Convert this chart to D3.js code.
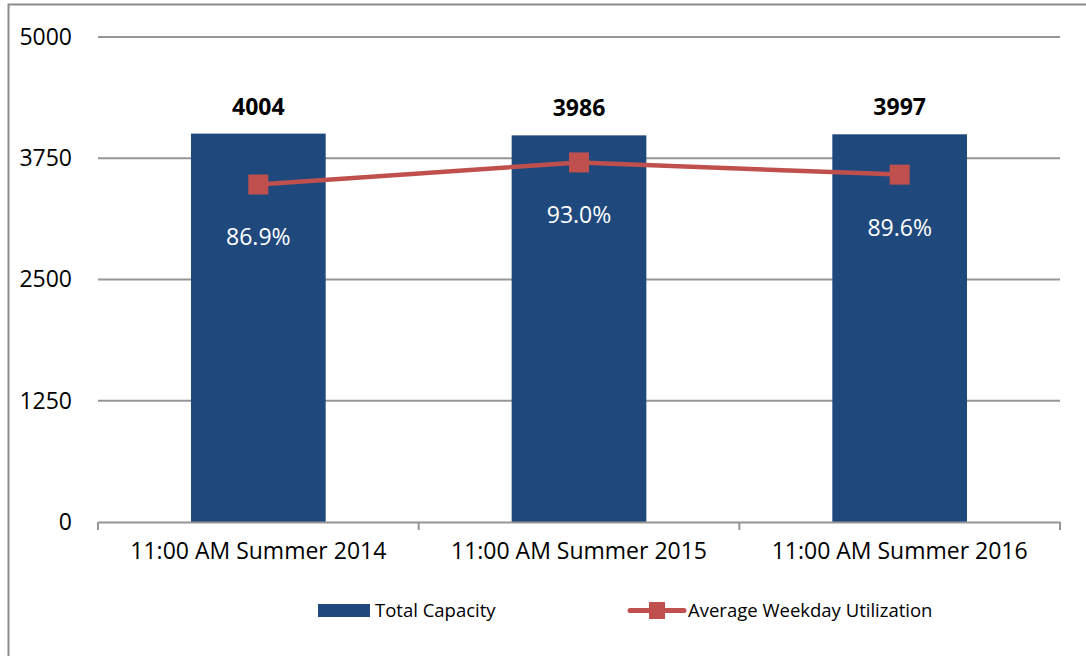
<!DOCTYPE html>
<html>
<head>
<meta charset="utf-8">
<script src="https://cdn.jsdelivr.net/npm/d3@7"></script>
<style>
  html, body { margin: 0; padding: 0; background: #fff; }
  svg { display: block; font-family: "Open Sans", "Noto Sans", sans-serif; }
</style>
</head>
<body>
<div class="display"></div>
<script>
const categories = ['11:00 AM Summer 2014', '11:00 AM Summer 2015', '11:00 AM Summer 2016'];
const capacity = [4004, 3986, 3997];
const utilization = [86.9, 93.0, 89.6];
const yTicks = [0, 1250, 2500, 3750, 5000];

const width = 1086;
const height = 656;
const margin = {left: 98, right: 26, top: 37, bottom: 134};

const dataset = categories.map((c, i) => ({
    category: c,
    capacity: capacity[i],
    utilization: utilization[i],
    used: capacity[i] * utilization[i] / 100
}));

const svg = d3.select('.display')
    .append('svg')
    .attr('width', width)
    .attr('height', height);

// outer frame
svg.append('rect')
    .attr('x', 8.5).attr('y', 4.5)
    .attr('width', width + 10).attr('height', height + 10)
    .attr('fill', 'none')
    .attr('stroke', '#8c8c8c')
    .attr('stroke-width', 2);

const xScale = d3.scaleBand()
    .domain(categories)
    .range([margin.left, width - margin.right])
    .paddingInner(0.58)
    .paddingOuter(0.29);

const xOuter = d3.scaleBand()
    .domain(categories)
    .range([margin.left, width - margin.right]);

const yScale = d3.scaleLinear()
    .domain([0, 5000])
    .range([height - margin.bottom, margin.top]);

// gridlines
svg.append('g')
    .selectAll('line')
    .data(yTicks.filter(d => d > 0))
    .enter()
    .append('line')
    .attr('x1', margin.left)
    .attr('x2', width - margin.right)
    .attr('y1', d => yScale(d))
    .attr('y2', d => yScale(d))
    .attr('stroke', '#969696')
    .attr('stroke-width', 2);

// y labels
const yAxis = d3.axisLeft(yScale).tickValues(yTicks).tickFormat(d => d).tickSize(0).tickPadding(26);
svg.append('g')
    .attr('transform', `translate(${margin.left}, 0)`)
    .call(yAxis)
    .call(g => g.select('.domain').remove())
    .call(g => g.selectAll('text')
        .attr('font-size', 23)
        .attr('font-family', '"Open Sans", sans-serif')
        .attr('fill', '#000'));

// bars
svg.selectAll('rect.bar')
    .data(dataset)
    .enter()
    .append('rect')
    .attr('class', 'bar')
    .attr('x', d => xScale(d.category))
    .attr('y', d => yScale(d.capacity))
    .attr('width', xScale.bandwidth())
    .attr('height', d => yScale(0) - yScale(d.capacity))
    .attr('fill', '#1f497d');

// x axis
const xAxis = d3.axisBottom(xOuter).tickSize(0).tickPadding(21);
const xg = svg.append('g')
    .attr('transform', `translate(0, ${yScale(0)})`)
    .call(xAxis);
xg.select('.domain').attr('stroke', '#969696').attr('stroke-width', 2);
xg.selectAll('text')
    .attr('font-size', 23)
    .attr('font-family', '"Open Sans", sans-serif')
    .attr('fill', '#000');
xg.selectAll('line.sep')
    .data([...categories.map(c => xOuter(c)), width - margin.right])
    .enter()
    .append('line')
    .attr('class', 'sep')
    .attr('x1', d => d).attr('x2', d => d)
    .attr('y1', 0).attr('y2', 8)
    .attr('stroke', '#969696')
    .attr('stroke-width', 2);

// bar value labels
svg.selectAll('text.cap')
    .data(dataset)
    .enter()
    .append('text')
    .attr('class', 'cap')
    .attr('x', d => xScale(d.category) + xScale.bandwidth() / 2)
    .attr('y', d => yScale(d.capacity) - 19)
    .attr('text-anchor', 'middle')
    .attr('font-size', 23)
    .attr('font-weight', 'bold')
    .attr('fill', '#000')
    .text(d => d.capacity);

// utilization line
const line = d3.line()
    .x(d => xOuter(d.category) + xOuter.bandwidth() / 2)
    .y(d => yScale(d.used));

svg.append('path')
    .datum(dataset)
    .attr('d', line)
    .attr('fill', 'none')
    .attr('stroke', '#c0504d')
    .attr('stroke-width', 4.5);

svg.selectAll('rect.marker')
    .data(dataset)
    .enter()
    .append('rect')
    .attr('class', 'marker')
    .attr('x', d => xOuter(d.category) + xOuter.bandwidth() / 2 - 10)
    .attr('y', d => yScale(d.used) - 10)
    .attr('width', 20)
    .attr('height', 20)
    .attr('fill', '#c0504d');

svg.selectAll('text.util')
    .data(dataset)
    .enter()
    .append('text')
    .attr('class', 'util')
    .attr('x', d => xOuter(d.category) + xOuter.bandwidth() / 2)
    .attr('y', d => yScale(d.used) + 61)
    .attr('text-anchor', 'middle')
    .attr('font-size', 23)
    .attr('fill', '#fff')
    .text(d => d.utilization.toFixed(1) + '%');

// legend
const legend = svg.append('g').attr('font-size', 18.5).attr('fill', '#000');
legend.append('rect')
    .attr('x', 318).attr('y', 604)
    .attr('width', 52).attr('height', 13)
    .attr('fill', '#1f497d');
legend.append('text')
    .attr('x', 375).attr('y', 617)
    .text('Total Capacity');
legend.append('line')
    .attr('x1', 630).attr('x2', 684)
    .attr('y1', 610.5).attr('y2', 610.5)
    .attr('stroke', '#c0504d')
    .attr('stroke-width', 5)
    .attr('stroke-linecap', 'round');
legend.append('rect')
    .attr('x', 649).attr('y', 602)
    .attr('width', 16).attr('height', 17)
    .attr('fill', '#c0504d');
legend.append('text')
    .attr('x', 688).attr('y', 617)
    .text('Average Weekday Utilization');
</script>
</body>
</html>
